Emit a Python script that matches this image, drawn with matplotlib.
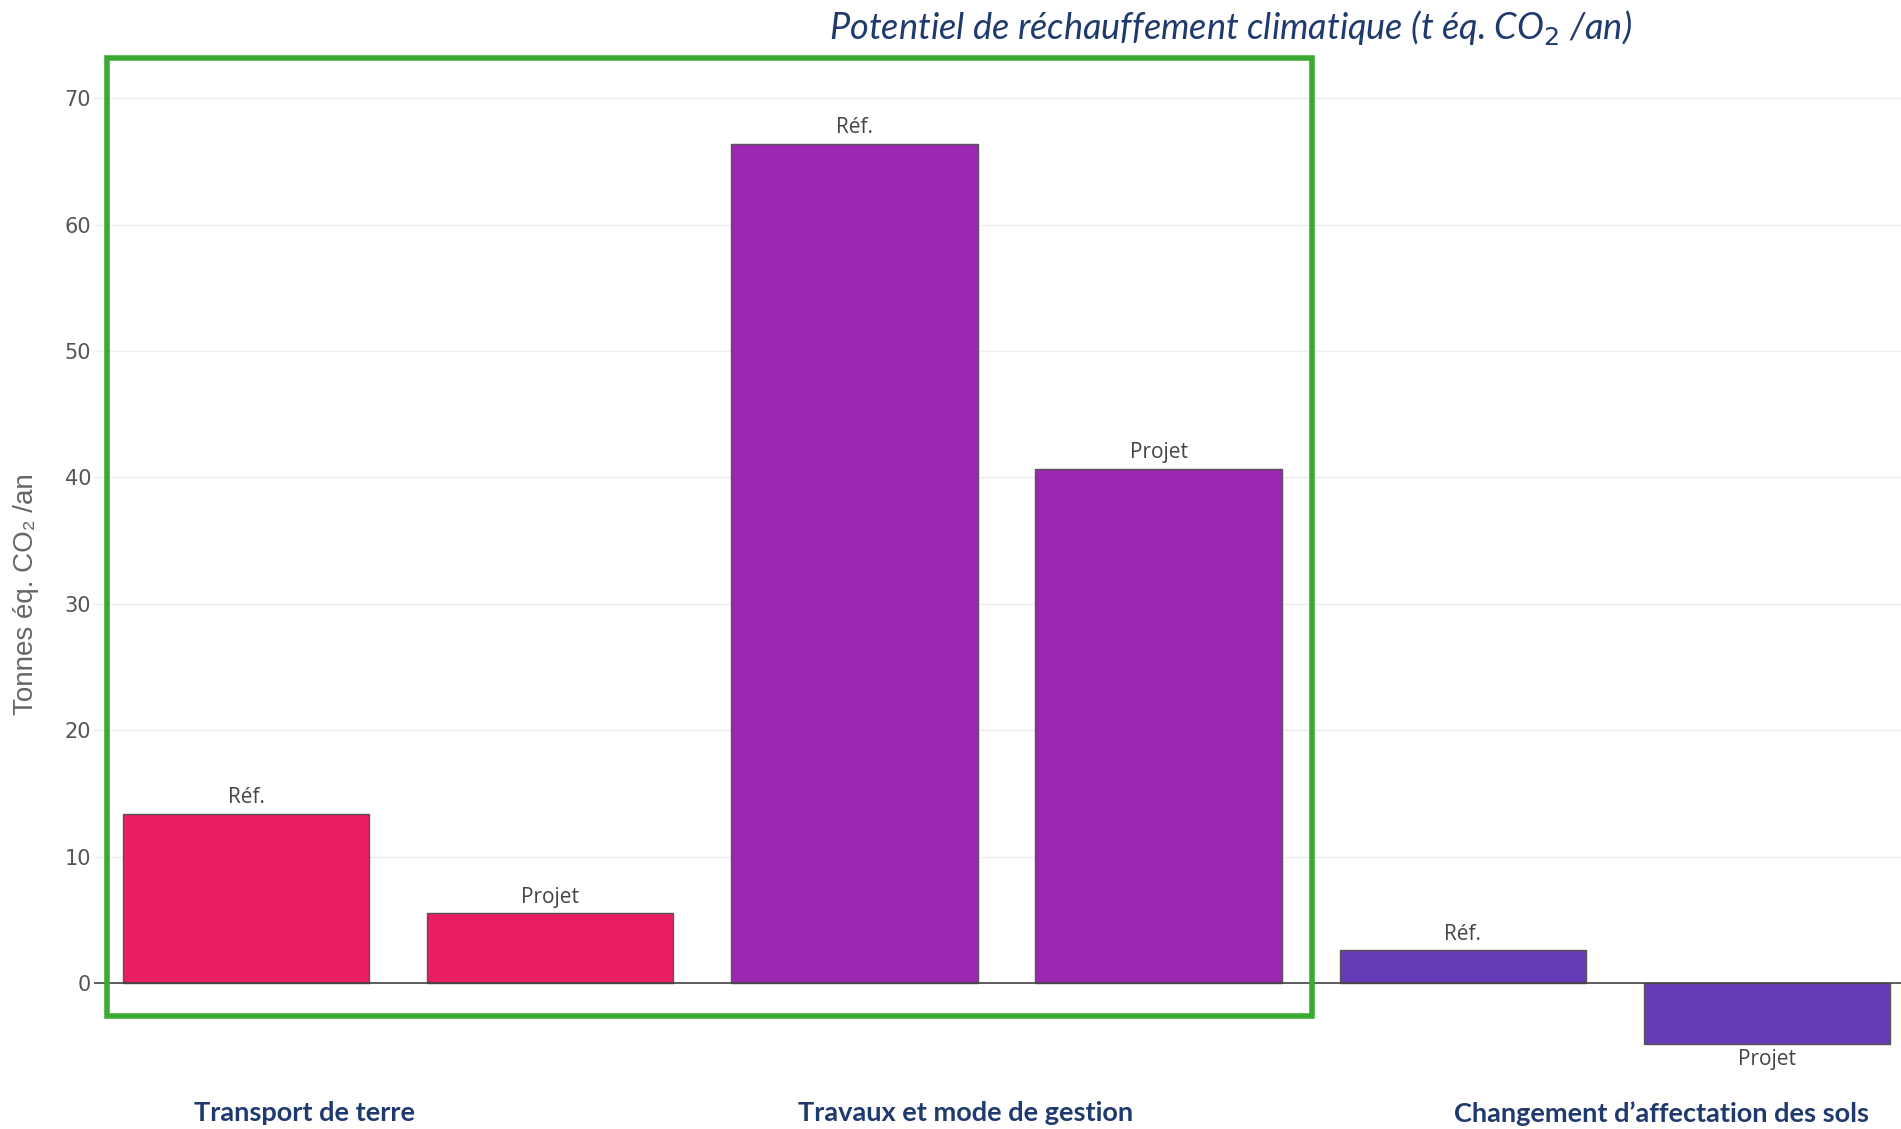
import numpy as np
import matplotlib
matplotlib.use("Agg")
import matplotlib.pyplot as plt
from matplotlib.patches import Rectangle

# values (t éq. CO2 / an)
categories = ["Transport de terre", "Travaux et mode de gestion", "Changement d\u2019affectation des sols"]
ref_values = [13.4, 66.4, 2.6]
projet_values = [5.5, 40.7, -4.8]
bar_labels = ["Réf.", "Projet"]
colors = ["#E91E63", "#9C27B0", "#673AB7"]

heights = []
bar_colors = []
texts = []
for i in range(len(categories)):
    heights += [ref_values[i], projet_values[i]]
    bar_colors += [colors[i], colors[i]]
    texts += bar_labels
x = np.arange(len(heights))

fig = plt.figure(figsize=(19.01, 11.29), dpi=100)
ax = fig.add_axes([0.0494, 0.0454, 0.9506, 0.9012])

ax.bar(x, heights, width=0.81, color=bar_colors, edgecolor="#555555", linewidth=1, zorder=3)
ax.bar_label(ax.containers[0], labels=texts, padding=4, fontsize=15,
             color="#444444", family="Open Sans")

ax.set_xlim(-0.5, 5.44)
ax.set_ylim(-7.5, 73)
ax.set_yticks(range(0, 80, 10))
ax.set_xticks([])
ax.tick_params(axis="y", length=0, pad=2, labelsize=15, labelcolor="#555555")
for lab in ax.get_yticklabels():
    lab.set_family("DejaVu Sans")
ax.grid(axis="y", color="#eeeeee", linewidth=1, zorder=0)
ax.axhline(0, color="#444444", linewidth=1.2, zorder=4)
for s in ax.spines.values():
    s.set_visible(False)

ax.set_ylabel("Tonnes éq. CO₂ /an", fontsize=20, color="#666666",
              family=["Liberation Sans Narrow", "Liberation Sans"])
ax.yaxis.set_label_coords(-0.0305, 0.4755)

# title and group names
fig.text(0.6475, 0.976, "Potentiel de réchauffement climatique (t éq. CO$_2$ /an)",
         ha="center", va="center", fontsize=26, style="italic", color="#1F3A6E",
         family="Lato")
label_x = [0.160, 0.508, 0.874]
for cx, name in zip(label_x, categories):
    fig.text(cx, 0.014, name, ha="center", va="center", fontsize=19.5,
             fontweight="bold", color="#1F3A6E", family="Lato")

# green frame around the first two groups
fig.add_artist(Rectangle((0.0563, 0.1001), 0.6339, 0.8485, transform=fig.transFigure,
                         fill=False, edgecolor="#3AAA35", linewidth=4, zorder=10))

fig.savefig("out.png", dpi=100)
